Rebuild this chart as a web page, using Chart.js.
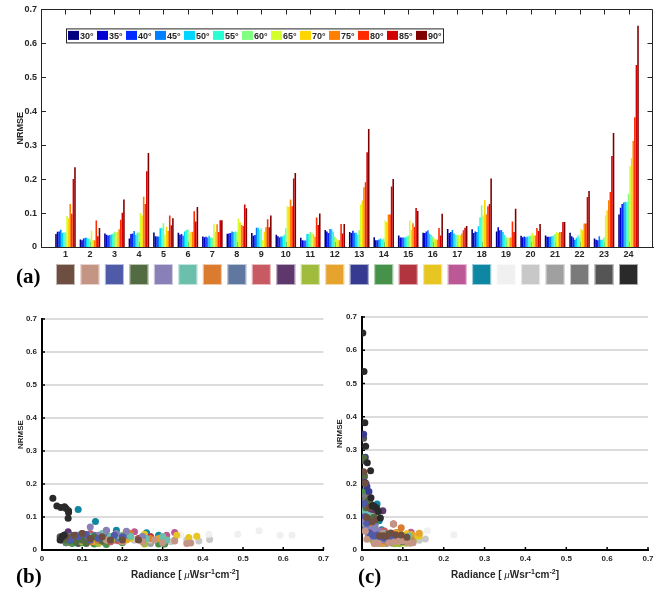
<!DOCTYPE html>
<html><head><meta charset="utf-8">
<script src="https://cdn.jsdelivr.net/npm/chart.js@4.4.0/dist/chart.umd.min.js"></script>
<style>
html,body{margin:0;padding:0;background:#fff;}
#wrap{position:relative;width:666px;height:592px;overflow:hidden;background:#fff;}
canvas{position:absolute;}
</style></head><body>
<div id="wrap">
<canvas id="cA" width="666" height="292" style="left:0;top:0;width:666px;height:292px"></canvas>
<canvas id="cB" width="333" height="300" style="left:0;top:292px;width:333px;height:300px"></canvas>
<canvas id="cC" width="333" height="300" style="left:333px;top:292px;width:333px;height:300px"></canvas>
</div>
<script>
// ---------- data ----------
const categories = [1,2,3,4,5,6,7,8,9,10,11,12,13,14,15,16,17,18,19,20,21,22,23,24];
const angleLabels = ['30°','35°','40°','45°','50°','55°','60°','65°','70°','75°','80°','85°','90°'];
const yTicks = [0,0.1,0.2,0.3,0.4,0.5,0.6,0.7];

const nrmse30 = [0.038,0.022,0.040,0.025,0.043,0.042,0.031,0.039,0.041,0.036,0.027,0.050,0.044,0.029,0.034,0.042,0.053,0.052,0.046,0.033,0.034,0.042,0.025,0.096];
const nrmse35 = [0.045,0.020,0.036,0.038,0.032,0.036,0.029,0.040,0.033,0.032,0.020,0.046,0.041,0.020,0.028,0.041,0.041,0.041,0.058,0.029,0.030,0.032,0.021,0.116];
const nrmse40 = [0.046,0.025,0.034,0.040,0.031,0.038,0.030,0.041,0.035,0.028,0.019,0.041,0.048,0.020,0.028,0.046,0.044,0.046,0.049,0.031,0.030,0.028,0.020,0.127];
const nrmse45 = [0.051,0.027,0.035,0.047,0.031,0.033,0.028,0.046,0.057,0.031,0.019,0.053,0.042,0.022,0.028,0.049,0.050,0.044,0.050,0.029,0.030,0.021,0.032,0.131];
const nrmse50 = [0.042,0.027,0.037,0.036,0.055,0.046,0.033,0.044,0.057,0.031,0.038,0.052,0.042,0.025,0.028,0.039,0.040,0.061,0.044,0.031,0.032,0.027,0.021,0.133];
const nrmse55 = [0.043,0.024,0.039,0.042,0.057,0.050,0.028,0.046,0.050,0.036,0.039,0.045,0.035,0.022,0.031,0.036,0.036,0.088,0.035,0.032,0.034,0.034,0.022,0.132];
const nrmse60 = [0.043,0.022,0.045,0.043,0.070,0.052,0.027,0.045,0.055,0.055,0.044,0.031,0.049,0.025,0.034,0.031,0.035,0.123,0.028,0.034,0.038,0.028,0.028,0.157];
const nrmse65 = [0.091,0.048,0.043,0.100,0.036,0.040,0.067,0.084,0.020,0.120,0.040,0.024,0.125,0.078,0.078,0.025,0.035,0.093,0.027,0.041,0.044,0.054,0.093,0.238];
const nrmse70 = [0.085,0.020,0.045,0.093,0.060,0.044,0.045,0.073,0.045,0.118,0.038,0.020,0.137,0.074,0.051,0.022,0.034,0.138,0.027,0.034,0.041,0.049,0.108,0.262];
const nrmse75 = [0.127,0.020,0.052,0.148,0.047,0.045,0.067,0.065,0.058,0.140,0.030,0.020,0.176,0.096,0.070,0.022,0.040,0.096,0.028,0.034,0.044,0.069,0.138,0.312];
const nrmse80 = [0.098,0.078,0.080,0.127,0.093,0.105,0.044,0.062,0.082,0.120,0.087,0.068,0.191,0.096,0.059,0.056,0.049,0.120,0.075,0.056,0.044,0.069,0.162,0.382];
const nrmse85 = [0.200,0.032,0.101,0.223,0.064,0.075,0.079,0.125,0.058,0.202,0.065,0.040,0.279,0.178,0.115,0.034,0.057,0.127,0.044,0.047,0.074,0.147,0.268,0.536];
const nrmse90 = [0.235,0.056,0.140,0.277,0.085,0.118,0.079,0.114,0.093,0.218,0.099,0.068,0.348,0.200,0.106,0.098,0.062,0.202,0.113,0.068,0.074,0.165,0.336,0.652];
const nrmseByAngle = [nrmse30,nrmse35,nrmse40,nrmse45,nrmse50,nrmse55,nrmse60,nrmse65,nrmse70,nrmse75,nrmse80,nrmse85,nrmse90];

const angleColors = ['#000080','#0000D4','#002AFF','#0080FF','#00D4FF','#2AFFD4','#80FF80','#D4FF2A','#FFD400','#FF8000','#FF2A00','#D40000','#800000'];
const categoryColors = ['#6E4E40','#C49585','#4F5BA8','#526B40','#8A80B8','#6BBFAB','#DB7B2E','#6078A0','#C85A64','#5E386C','#A0BC3C','#E6A42E',
                        '#363A90','#46924A','#B2343E','#E8C622','#BC5896','#0E88A2','#F0F0F0','#C8C8C8','#A0A0A0','#7A7A7A','#555555','#2A2A2A'];

// panel (b): [radiance, NRMSE] per category
const ptsB1  = [[0.10,0.050],[0.12,0.035],[0.08,0.045],[0.15,0.040],[0.20,0.030],[0.06,0.040],[0.17,0.030],[0.24,0.030]];
const ptsB2  = [[0.36,0.020],[0.37,0.021],[0.33,0.027],[0.20,0.025],[0.25,0.025],[0.28,0.030],[0.30,0.022],[0.16,0.030]];
const ptsB3  = [[0.055,0.045],[0.09,0.040],[0.11,0.047],[0.14,0.035],[0.20,0.040],[0.07,0.030],[0.18,0.045],[0.12,0.030]];
const ptsB4  = [[0.06,0.030],[0.10,0.030],[0.13,0.040],[0.05,0.040],[0.085,0.025],[0.15,0.028],[0.11,0.020],[0.07,0.038]];
const ptsB5  = [[0.12,0.070],[0.16,0.060],[0.21,0.057],[0.185,0.050],[0.10,0.045],[0.14,0.045],[0.25,0.040],[0.08,0.040]];
const ptsB6  = [[0.15,0.050],[0.19,0.045],[0.22,0.042],[0.26,0.035],[0.30,0.040],[0.12,0.040],[0.31,0.030],[0.17,0.040]];
const ptsB7  = [[0.22,0.050],[0.17,0.040],[0.27,0.035],[0.31,0.030],[0.20,0.035],[0.14,0.030],[0.25,0.028],[0.12,0.025]];
const ptsB8  = [[0.09,0.045],[0.13,0.045],[0.16,0.040],[0.21,0.045],[0.25,0.040],[0.11,0.038],[0.19,0.035],[0.07,0.042]];
const ptsB9  = [[0.21,0.055],[0.12,0.050],[0.15,0.032],[0.10,0.030],[0.19,0.028],[0.08,0.035],[0.24,0.032],[0.17,0.025]];
const ptsB10 = [[0.065,0.055],[0.10,0.050],[0.075,0.040],[0.12,0.040],[0.14,0.030],[0.05,0.035],[0.09,0.033],[0.16,0.035]];
const ptsB11 = [[0.255,0.018],[0.10,0.025],[0.22,0.040],[0.175,0.032],[0.12,0.040],[0.20,0.045],[0.14,0.020],[0.30,0.030]];
const ptsB12 = [[0.07,0.035],[0.21,0.030],[0.16,0.030],[0.13,0.025],[0.25,0.030],[0.18,0.038],[0.10,0.028],[0.29,0.035]];
const ptsB13 = [[0.06,0.047],[0.085,0.045],[0.10,0.040],[0.07,0.030],[0.13,0.035],[0.05,0.040],[0.11,0.045],[0.15,0.030]];
const ptsB14 = [[0.075,0.020],[0.13,0.018],[0.16,0.017],[0.29,0.018],[0.305,0.018],[0.10,0.022],[0.20,0.022],[0.06,0.025]];
const ptsB15 = [[0.095,0.030],[0.15,0.025],[0.18,0.030],[0.12,0.035],[0.20,0.025],[0.07,0.025],[0.24,0.035],[0.27,0.040]];
const ptsB16 = [[0.385,0.042],[0.365,0.038],[0.335,0.045],[0.30,0.040],[0.255,0.048],[0.22,0.035],[0.175,0.035],[0.12,0.030]];
const ptsB17 = [[0.33,0.053],[0.215,0.050],[0.23,0.055],[0.27,0.040],[0.30,0.035],[0.15,0.030],[0.31,0.045],[0.19,0.040]];
const ptsB18 = [[0.09,0.123],[0.133,0.086],[0.185,0.060],[0.26,0.052],[0.29,0.045],[0.16,0.058],[0.215,0.050],[0.25,0.040]];
const ptsB19 = [[0.415,0.048],[0.487,0.048],[0.54,0.058],[0.592,0.045],[0.622,0.045],[0.345,0.045],[0.28,0.035],[0.37,0.030]];
const ptsB20 = [[0.417,0.032],[0.39,0.027],[0.36,0.030],[0.23,0.032],[0.27,0.030],[0.32,0.025],[0.19,0.030],[0.25,0.035]];
const ptsB21 = [[0.19,0.028],[0.30,0.025],[0.23,0.030],[0.14,0.025],[0.27,0.020],[0.10,0.028],[0.33,0.030],[0.16,0.035]];
const ptsB22 = [[0.06,0.022],[0.10,0.030],[0.14,0.030],[0.20,0.030],[0.08,0.035],[0.12,0.025],[0.17,0.025],[0.05,0.030]];
const ptsB23 = [[0.05,0.030],[0.06,0.022],[0.08,0.028],[0.11,0.030],[0.045,0.040],[0.07,0.045],[0.09,0.020],[0.13,0.025]];
const ptsB24 = [[0.027,0.157],[0.037,0.133],[0.047,0.129],[0.056,0.131],[0.060,0.126],[0.066,0.119],[0.066,0.114],[0.065,0.096],[0.05,0.040],[0.045,0.030],[0.055,0.045]];
const ptsB = [ptsB1,ptsB2,ptsB3,ptsB4,ptsB5,ptsB6,ptsB7,ptsB8,ptsB9,ptsB10,ptsB11,ptsB12,ptsB13,ptsB14,ptsB15,ptsB16,ptsB17,ptsB18,ptsB19,ptsB20,ptsB21,ptsB22,ptsB23,ptsB24];

// panel (c): radiance per category at 30°..90° (NRMSE from the bar series)
const radC1  = [0.110,0.096,0.082,0.070,0.060,0.052,0.043,0.033,0.025,0.018,0.012,0.007,0.004];
const radC2  = [0.125,0.118,0.110,0.100,0.090,0.078,0.066,0.050,0.040,0.030,0.077,0.012,0.008];
const radC3  = [0.095,0.082,0.070,0.060,0.052,0.045,0.038,0.030,0.024,0.018,0.012,0.008,0.005];
const radC4  = [0.100,0.086,0.072,0.063,0.055,0.047,0.040,0.030,0.022,0.015,0.010,0.006,0.004];
const radC5  = [0.075,0.064,0.054,0.046,0.042,0.037,0.032,0.028,0.022,0.017,0.012,0.009,0.006];
const radC6  = [0.115,0.098,0.082,0.068,0.060,0.052,0.044,0.036,0.028,0.021,0.014,0.009,0.006];
const radC7  = [0.120,0.104,0.088,0.075,0.066,0.058,0.050,0.096,0.032,0.024,0.016,0.010,0.007];
const radC8  = [0.090,0.078,0.066,0.058,0.050,0.044,0.037,0.030,0.024,0.018,0.012,0.008,0.005];
const radC9  = [0.085,0.074,0.062,0.055,0.048,0.042,0.036,0.030,0.024,0.018,0.013,0.009,0.006];
const radC10 = [0.080,0.068,0.058,0.050,0.045,0.040,0.035,0.030,0.051,0.020,0.014,0.008,0.005];
const radC11 = [0.125,0.108,0.092,0.080,0.070,0.060,0.050,0.042,0.034,0.026,0.018,0.012,0.008];
const radC12 = [0.140,0.122,0.106,0.092,0.083,0.075,0.066,0.058,0.050,0.040,0.030,0.020,0.013];
const radC13 = [0.085,0.072,0.060,0.052,0.046,0.040,0.034,0.028,0.022,0.017,0.012,0.008,0.004];
const radC14 = [0.105,0.090,0.075,0.062,0.055,0.048,0.040,0.032,0.025,0.018,0.013,0.008,0.010];
const radC15 = [0.110,0.096,0.084,0.074,0.068,0.060,0.052,0.077,0.034,0.026,0.019,0.012,0.008];
const radC16 = [0.140,0.130,0.120,0.110,0.095,0.082,0.068,0.055,0.045,0.035,0.025,0.018,0.012];
const radC17 = [0.120,0.104,0.090,0.078,0.070,0.062,0.054,0.045,0.037,0.030,0.022,0.016,0.012];
const radC18 = [0.085,0.074,0.062,0.054,0.048,0.042,0.037,0.030,0.037,0.024,0.018,0.012,0.007];
const radC19 = [0.225,0.160,0.145,0.130,0.115,0.100,0.085,0.070,0.058,0.045,0.030,0.022,0.014];
const radC20 = [0.155,0.140,0.128,0.115,0.100,0.088,0.075,0.062,0.050,0.040,0.030,0.022,0.015];
const radC21 = [0.125,0.112,0.100,0.090,0.080,0.070,0.060,0.050,0.040,0.032,0.024,0.016,0.012];
const radC22 = [0.090,0.080,0.070,0.062,0.055,0.048,0.042,0.035,0.028,0.020,0.014,0.008,0.006];
const radC23 = [0.065,0.058,0.050,0.045,0.040,0.035,0.030,0.022,0.015,0.010,0.007,0.004,0.004];
const radC24 = [0.045,0.040,0.035,0.030,0.028,0.025,0.022,0.021,0.013,0.009,0.007,0.005,0.002];
const radC = [radC1,radC2,radC3,radC4,radC5,radC6,radC7,radC8,radC9,radC10,radC11,radC12,radC13,radC14,radC15,radC16,radC17,radC18,radC19,radC20,radC21,radC22,radC23,radC24];

// ---------- styling ----------
const SANS = '"Liberation Sans", Arial, Helvetica, sans-serif';
const SERIF = '"Liberation Serif", "Times New Roman", serif';
const AXC = '#262626';
Chart.defaults.font.family = SANS;
Chart.defaults.color = AXC;
const fmt = v => String(Math.round(v * 10) / 10);

// ---------- panel (a) ----------
const panelA = {
  id: 'panelA',
  beforeDatasetsDraw(chart) {
    const {ctx, chartArea: ca, scales: {x, y}} = chart;
    ctx.save();
    ctx.strokeStyle = AXC; ctx.lineWidth = 1;
    ctx.beginPath();
    const t = Math.round(ca.top) + 0.5, r = Math.round(ca.right) - 0.5;
    ctx.moveTo(ca.left, t); ctx.lineTo(r, t); ctx.lineTo(r, ca.bottom);
    categories.forEach(c => {
      const px = Math.round(x.getPixelForValue(c)) + 0.5;
      ctx.moveTo(px, t); ctx.lineTo(px, t + 5);
      ctx.moveTo(px, ca.bottom); ctx.lineTo(px, ca.bottom - 5);
    });
    yTicks.slice(1, -1).forEach(v => {
      const py = Math.round(y.getPixelForValue(v)) + 0.5;
      ctx.moveTo(ca.left, py); ctx.lineTo(ca.left + 5, py);
      ctx.moveTo(r, py); ctx.lineTo(r - 5, py);
    });
    ctx.stroke();
    ctx.restore();
  },
  afterDraw(chart) {
    const {ctx, chartArea: ca, scales: {x}} = chart;
    ctx.save();
    // legend box
    const lx = ca.left + 25, ly = ca.top + 19, step = 29;
    ctx.fillStyle = '#fff';
    ctx.fillRect(lx, ly, 377, 14);
    ctx.strokeStyle = AXC; ctx.lineWidth = 1;
    ctx.strokeRect(lx + 0.5, ly + 0.5, 377, 14);
    ctx.font = 'bold 9px ' + SANS;
    ctx.textBaseline = 'alphabetic';
    angleLabels.forEach((lab, i) => {
      const sx = lx + 2 + step * i;
      ctx.fillStyle = angleColors[i];
      ctx.fillRect(sx, ly + 2.5, 11, 9);
      ctx.fillStyle = AXC;
      ctx.fillText(lab, sx + 12, ly + 11);
    });
    // category colour swatches
    categories.forEach((c, i) => {
      const cx = x.getPixelForValue(c);
      ctx.fillStyle = categoryColors[i];
      ctx.fillRect(cx - 9.5, 264, 19, 21);
      ctx.strokeStyle = 'rgba(255,255,255,0.6)';
      ctx.strokeRect(cx - 9, 264.5, 18, 20);
    });
    // panel label
    ctx.fillStyle = '#000';
    ctx.font = 'bold 21px ' + SERIF;
    ctx.fillText('(a)', 16, 283);
    ctx.restore();
  }
};

new Chart(document.getElementById('cA'), {
  type: 'bar',
  data: {
    labels: categories,
    datasets: nrmseByAngle.map((arr, i) => ({
      label: angleLabels[i], data: arr, backgroundColor: angleColors[i],
      borderWidth: 0, categoryPercentage: 0.84, barPercentage: 1.0
    }))
  },
  options: {
    responsive: false, animation: false,
    layout: {padding: {left: 0, right: 13, top: 9, bottom: 31}},
    plugins: {legend: {display: false}, tooltip: {enabled: false}},
    scales: {
      x: {
        type: 'linear', min: 0, max: 25, offset: false,
        grid: {display: false, drawTicks: false, offset: false},
        border: {color: AXC, width: 1},
        ticks: {stepSize: 1, autoSkip: false, maxRotation: 0, padding: 2,
                font: {size: 9, weight: 'bold'}, color: AXC,
                callback: v => (v >= 1 && v <= 24) ? String(v) : ''},
        afterFit: s => { s.height = 14; }
      },
      y: {
        min: 0, max: 0.7,
        grid: {display: false, drawTicks: false},
        border: {color: AXC, width: 1},
        ticks: {stepSize: 0.1, padding: 4, font: {size: 9, weight: 'bold'}, color: AXC, callback: fmt},
        title: {display: true, text: 'NRMSE', font: {size: 9, weight: 'bold'}, color: AXC, padding: {top: 15, bottom: 0}},
        afterFit: s => { s.width = 41; }
      }
    }
  },
  plugins: [panelA]
});

// ---------- scatter panels ----------
function drawRadianceLabel(ctx, cx, base) {
  const main = 'bold 10px ' + SANS;
  const mu = 'italic 11px ' + SERIF;
  const sup = 'bold 7px ' + SANS;
  const parts = [
    {t: 'Radiance [ ', f: main, dy: 0}, {t: '\u03bc', f: mu, dy: 0}, {t: 'Wsr', f: main, dy: 0},
    {t: '-1', f: sup, dy: -4}, {t: 'cm', f: main, dy: 0}, {t: '-2', f: sup, dy: -4}, {t: ']', f: main, dy: 0}
  ];
  let w = 0;
  parts.forEach(p => { ctx.font = p.f; p.w = ctx.measureText(p.t).width; w += p.w; });
  let xx = cx - w / 2;
  ctx.fillStyle = AXC; ctx.textBaseline = 'alphabetic'; ctx.textAlign = 'left';
  parts.forEach(p => { ctx.font = p.f; ctx.fillText(p.t, xx, base + p.dy); xx += p.w; });
}

function scatterPlugin(labelText, labelX, labelCenterX) {
  return {
    id: 'scatterDeco',
    beforeDatasetsDraw(chart) {
      const {ctx, chartArea: ca, scales: {x, y}} = chart;
      ctx.save();
      ctx.strokeStyle = '#000'; ctx.lineWidth = 1.5;
      ctx.beginPath();
      yTicks.slice(1).forEach(v => {
        const px = x.getPixelForValue(v);
        ctx.moveTo(px, ca.bottom); ctx.lineTo(px, ca.bottom - 3);
        const py = y.getPixelForValue(v);
        ctx.moveTo(ca.left, py); ctx.lineTo(ca.left + 3, py);
      });
      ctx.stroke();
      ctx.restore();
    },
    afterDraw(chart) {
      const {ctx} = chart;
      ctx.save();
      drawRadianceLabel(ctx, labelCenterX, 286);
      ctx.fillStyle = '#000';
      ctx.font = 'bold 21px ' + SERIF;
      ctx.textBaseline = 'alphabetic';
      ctx.fillText(labelText, labelX, 291);
      ctx.restore();
    }
  };
}

function scatterOptions(padLeftAxis, padRight, padTop, titlePad) {
  return {
    responsive: false, animation: false,
    layout: {padding: {left: 0, right: padRight, top: padTop, bottom: 0}},
    plugins: {legend: {display: false}, tooltip: {enabled: false}},
    scales: {
      x: {
        type: 'linear', min: 0, max: 0.7,
        grid: {display: false, drawTicks: false},
        border: {color: '#000', width: 2},
        ticks: {stepSize: 0.1, padding: 4, font: {size: 8, weight: 'bold'}, color: AXC, callback: fmt},
        afterFit: s => { s.height = 42; }
      },
      y: {
        type: 'linear', min: 0, max: 0.7,
        grid: {color: '#DCDCDC', lineWidth: 2, drawTicks: false},
        border: {color: '#000', width: 2},
        ticks: {stepSize: 0.1, padding: 5, font: {size: 8, weight: 'bold'}, color: AXC, callback: fmt},
        title: {display: true, text: 'NRMSE', font: {size: 8, weight: 'bold'}, color: AXC, padding: {top: titlePad, bottom: 0}},
        afterFit: s => { s.width = padLeftAxis; }
      }
    }
  };
}

// draw order: grey categories underneath, coloured ones on top, darkest (24) topmost
const drawOrder = [5,6,7,8,9,10,11,12,13,14,15,16,17,18,19,20,21,22,23,24,25,26,27,0];

new Chart(document.getElementById('cB'), {
  type: 'scatter',
  data: {
    datasets: ptsB.map((pts, k) => ({
      data: pts.map(p => ({x: p[0], y: p[1]})),
      backgroundColor: categoryColors[k], pointRadius: 3.5, pointBorderWidth: 0, borderWidth: 0,
      order: drawOrder[k]
    }))
  },
  options: scatterOptions(42, 6, 27, 16),
  plugins: [scatterPlugin('(b)', 16, 185)]
});

new Chart(document.getElementById('cC'), {
  type: 'scatter',
  data: {
    datasets: radC.map((xs, k) => ({
      data: xs.map((xv, i) => ({x: xv, y: nrmseByAngle[i][k]})),
      backgroundColor: categoryColors[k], pointRadius: 3.5, pointBorderWidth: 0, borderWidth: 0,
      order: drawOrder[k]
    }))
  },
  options: scatterOptions(29, 18, 25, 2),
  plugins: [scatterPlugin('(c)', 25, 172)]
});
</script>
</body></html>
